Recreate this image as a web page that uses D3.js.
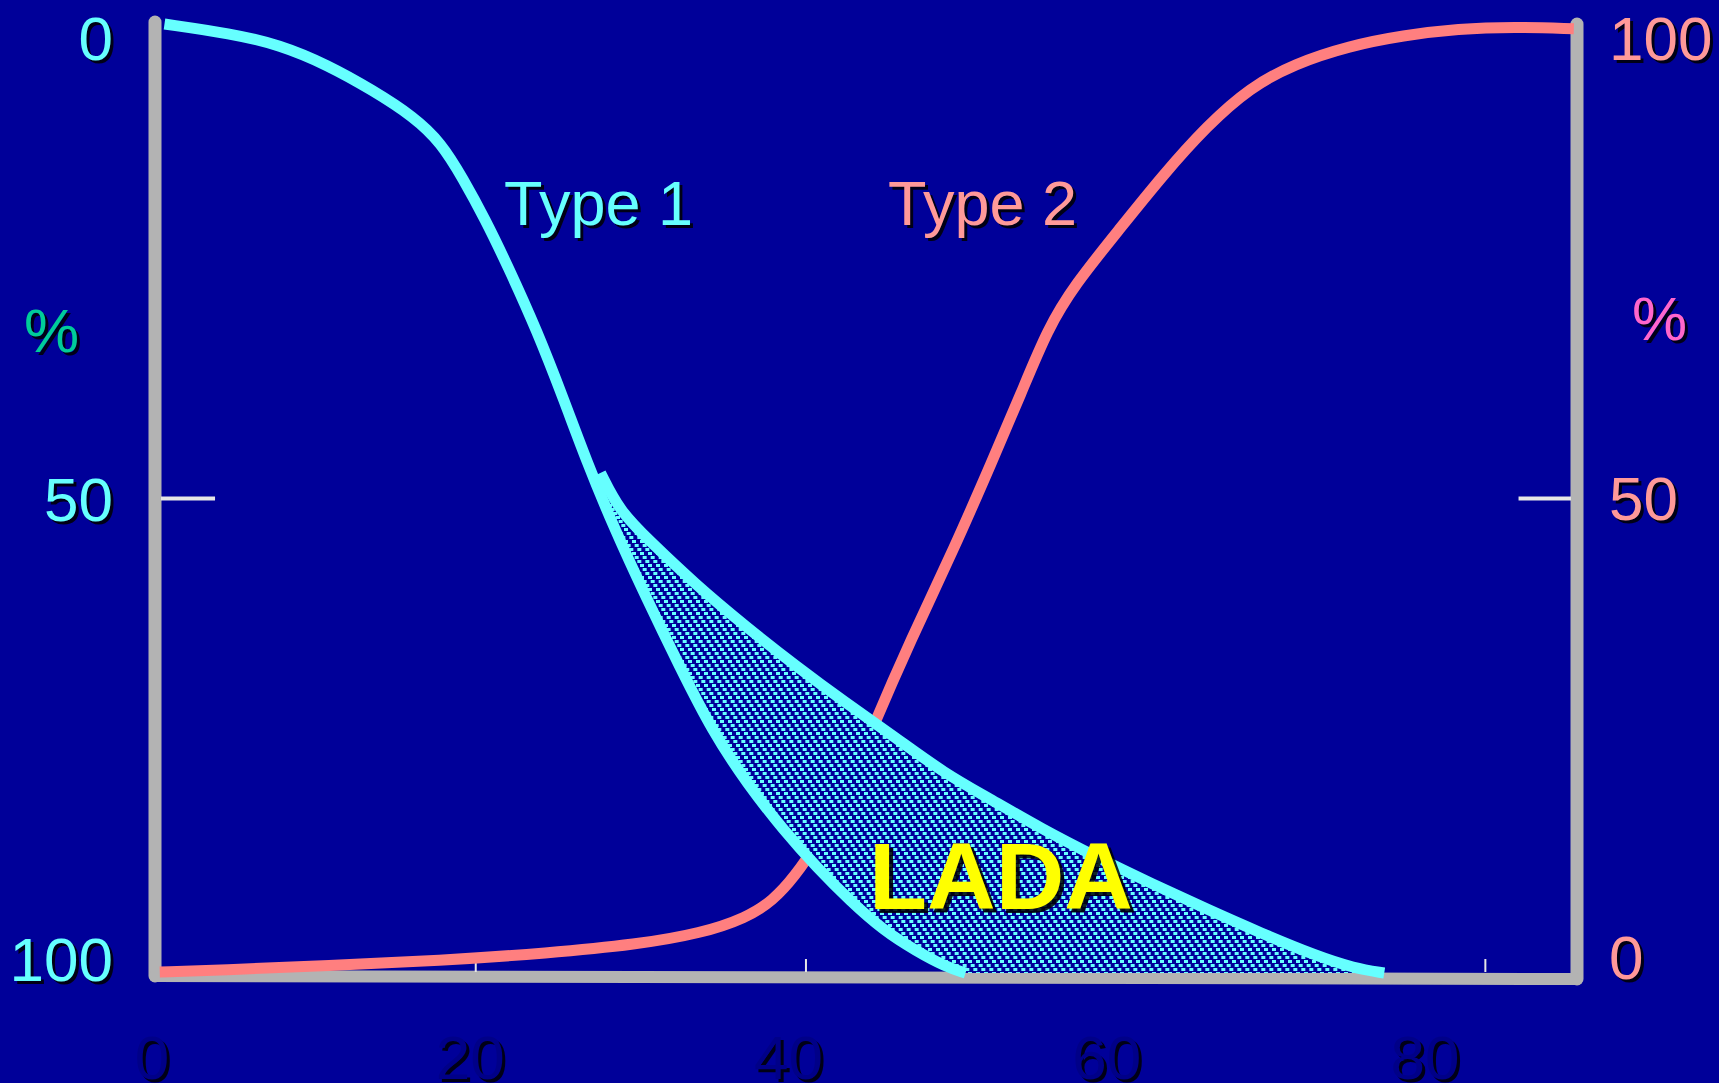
<html>

<head>
    <script src="https://d3js.org/d3.v7.min.js"></script>
    <style>
        body { margin: 0; background: #000099; }
    </style>
</head>

<body>
    <div id="vis"></div>
</body>

<script>

    // Type 1 curve (left axis, % from top)
    var type1X = [0.6, 4.8, 7.9, 10.9, 13.8, 16.4, 18.1, 19.5, 20.9, 22.3, 24.2, 25.9, 27.3, 29.0, 31.1, 33.2, 35.3, 37.5, 39.8, 41.9, 44.0, 46.1, 48.2, 50.0, 51.3];
    var type1Y = [0, 1.0, 2.2, 4.3, 7.0, 9.8, 12.5, 16.3, 20.6, 25.4, 32.4, 39.7, 46.0, 52.9, 60.5, 67.7, 74.6, 80.1, 85.0, 88.9, 92.4, 95.5, 97.7, 99.3, 100];

    // upper edge of the LADA band
    var ladaX = [28.2, 29.4, 31.2, 34.3, 37.4, 40.6, 43.7, 46.8, 50.0, 52.7, 56.1, 59.6, 63.1, 66.6, 70.0, 73.5, 75.9, 77.8];
    var ladaY = [47.3, 51.3, 54.3, 59.2, 63.5, 67.7, 71.5, 75.1, 79.0, 81.5, 84.8, 87.8, 90.6, 93.3, 95.8, 98.2, 99.5, 100];

    // Type 2 curve (right axis, % from bottom)
    var type2X = [0.3, 4.1, 11.0, 18.0, 24.9, 30.5, 34.6, 37.4, 39.1, 40.5, 41.9, 43.7, 45.4, 47.8, 50.6, 53.0, 54.8, 56.5, 58.2, 61.0, 63.8, 66.6, 69.3, 72.1, 75.6, 79.0, 82.5, 86.0, 89.8];
    var type2Y = [0.1, 0.3, 0.8, 1.3, 2.1, 3.0, 4.2, 5.8, 7.6, 10.2, 13.6, 18.8, 25.8, 35.0, 44.8, 54.0, 61.0, 67.9, 72.5, 78.3, 84.1, 89.3, 93.3, 95.8, 97.7, 98.8, 99.5, 99.7, 99.5];

    var leftTicks = [0, 50, 100];
    var rightTicks = [100, 50, 0];
    var ageTicks = [0, 20, 40, 60, 80];
    var minorTicks = [20.3, 41.2, 84.2];

    var width = 1719, height = 1083;
    var font = "Arial, 'Liberation Sans', sans-serif";

    var svg = d3.select("#vis")
        .append("svg")
        .attr("width", width)
        .attr("height", height)
        .style("display", "block");

    svg.append("rect")
        .attr("width", width)
        .attr("height", height)
        .attr("fill", "#000099");

    // dotted fill for the LADA band
    var pat = svg.append("defs").append("pattern")
        .attr("id", "dots")
        .attr("patternUnits", "userSpaceOnUse")
        .attr("width", 8)
        .attr("height", 12);
    pat.append("rect").attr("width", 8).attr("height", 12).attr("fill", "#000099");
    [[0, 0], [2.67, 4], [5.33, 8], [-2.67, 8]].forEach(function (p) {
        pat.append("rect")
            .attr("x", p[0]).attr("y", p[1])
            .attr("width", 4).attr("height", 3)
            .attr("fill", "#66ffff");
    });

    // scales
    var x = d3.scaleLinear().domain([0, 90]).range([155, 1577]);
    var yLeft = d3.scaleLinear().domain([0, 100]).range([24, 973]);
    var yRight = d3.scaleLinear().domain([0, 100]).range([973, 24]);

    // the printed labels sit a little off the plot scale
    var labelLeft = d3.scaleLinear().domain([0, 100]).range([38, 959]);
    var labelRight = d3.scaleLinear().domain([0, 100]).range([957, 38]);
    var labelAge = d3.scaleLinear().domain([0, 80]).range([152, 1425]);

    function pts(xs, ys) {
        return xs.map(function (d, i) { return [d, ys[i]]; });
    }

    var lineL = d3.line()
        .x(function (d) { return x(d[0]); })
        .y(function (d) { return yLeft(d[1]); })
        .curve(d3.curveBasis);

    var lineR = d3.line()
        .x(function (d) { return x(d[0]); })
        .y(function (d) { return yRight(d[1]); })
        .curve(d3.curveBasis);

    function shadowText(px, py, txt, color, size, weight, anchor, off) {
        off = off || 3;
        svg.append("text")
            .attr("x", px + off).attr("y", py + off)
            .attr("text-anchor", anchor)
            .style("font-family", font)
            .style("font-size", size + "px")
            .style("font-weight", weight)
            .attr("fill", "#000000")
            .attr("opacity", 0.85)
            .text(txt);
        svg.append("text")
            .attr("x", px).attr("y", py)
            .attr("text-anchor", anchor)
            .style("font-family", font)
            .style("font-size", size + "px")
            .style("font-weight", weight)
            .attr("fill", color)
            .text(txt);
    }

    // frame
    var grey = "#b3b3b3";
    svg.append("line")
        .attr("x1", x(0)).attr("x2", x(0))
        .attr("y1", yLeft(0) - 2).attr("y2", yLeft(100) + 3)
        .attr("stroke", grey).attr("stroke-width", 13).attr("stroke-linecap", "round");
    svg.append("line")
        .attr("x1", x(90)).attr("x2", x(90))
        .attr("y1", yLeft(0)).attr("y2", yLeft(100) + 6)
        .attr("stroke", grey).attr("stroke-width", 13).attr("stroke-linecap", "round");
    svg.append("line")
        .attr("x1", x(0)).attr("x2", x(90))
        .attr("y1", yLeft(100) + 3).attr("y2", yLeft(100) + 6)
        .attr("stroke", grey).attr("stroke-width", 12).attr("stroke-linecap", "round");

    // 50% ticks
    svg.append("line")
        .attr("x1", x(0) + 6).attr("x2", x(3.8))
        .attr("y1", yLeft(50)).attr("y2", yLeft(50))
        .attr("stroke", "#e6e6e6").attr("stroke-width", 4);
    svg.append("line")
        .attr("x1", x(86.3)).attr("x2", x(90) - 6)
        .attr("y1", yRight(50)).attr("y2", yRight(50))
        .attr("stroke", "#e6e6e6").attr("stroke-width", 4);

    // small age ticks
    svg.selectAll(".minor")
        .data(minorTicks)
        .enter()
        .append("line")
        .attr("x1", function (d) { return x(d); })
        .attr("x2", function (d) { return x(d); })
        .attr("y1", yLeft(100) - 14)
        .attr("y2", yLeft(100) - 1)
        .attr("stroke", "#e6e6e6")
        .attr("stroke-width", 2);

    // Type 2 curve
    svg.append("path")
        .attr("d", lineR(pts(type2X, type2Y)))
        .attr("fill", "none")
        .attr("stroke", "#ff7f7f")
        .attr("stroke-width", 11);

    // LADA band
    var upper = pts(ladaX, ladaY);
    var lower = pts(type1X, type1Y).filter(function (d) { return d[0] >= 28.5; });
    lower.unshift([28.2, 47.3]);
    var bandPath = lineL(upper) + lineL(lower.slice().reverse()).replace("M", "L") + "Z";
    svg.append("path")
        .attr("d", bandPath)
        .attr("fill", "url(#dots)");

    // Type 1 curves
    svg.append("path")
        .attr("d", lineL(pts(type1X, type1Y)))
        .attr("fill", "none")
        .attr("stroke", "#66ffff")
        .attr("stroke-width", 11);
    svg.append("path")
        .attr("d", lineL(upper))
        .attr("fill", "none")
        .attr("stroke", "#66ffff")
        .attr("stroke-width", 11);

    // left tick labels
    leftTicks.forEach(function (t) {
        shadowText(113, labelLeft(t) + 22, t, "#66ffff", 62, "normal", "end");
    });
    // right tick labels
    rightTicks.forEach(function (t) {
        shadowText(1609, labelRight(t) + 22, t, "#ff9999", 62, "normal", "start");
    });
    // age labels
    ageTicks.forEach(function (t) {
        shadowText(labelAge(t), 1079, t, "#000088", 62, "normal", "middle");
    });

    shadowText(24, 352, "%", "#00cc99", 62, "normal", "start");
    shadowText(1632, 340, "%", "#ff66cc", 62, "normal", "start");

    shadowText(504, 225, "Type 1", "#66ffff", 63, "normal", "start");
    shadowText(888, 225, "Type 2", "#ff9999", 63, "normal", "start");

    shadowText(869, 909, "LADA", "#ffff00", 95, "bold", "start", 4);

</script>

</html>
